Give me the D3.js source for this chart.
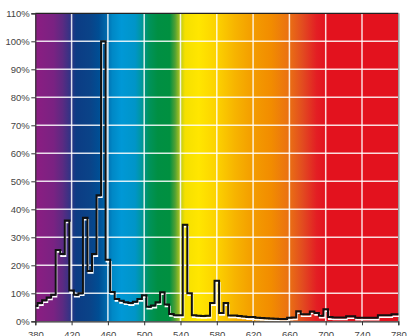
<!DOCTYPE html>
<html>
<head>
<meta charset="utf-8">
<script src="https://cdn.jsdelivr.net/npm/d3@7"></script>
<style>
html,body{margin:0;padding:0;background:#fff;}
svg{display:block;font-family:"Liberation Sans",Arial,Helvetica,sans-serif;}
</style>
</head>
<body>
<svg id="chart" width="408" height="336"></svg>
<script>
const wavelengths = [380,385,390,395,400,405,410,415,420,425,430,435,440,445,450,455,460,465,470,475,
  480,485,490,495,500,505,510,515,520,525,530,535,540,545,550,555,560,565,570,575,
  580,585,590,595,600,605,610,615,620,625,630,635,640,645,650,655,660,665,670,675,
  680,685,690,695,700,705,710,715,720,725,730,735,740,745,750,755,760,765,770,775,780];
const intensity = [5.5,6.5,7.5,8.5,9.5,25.5,24,36,11,9.5,10,37,18,24,45,100,22,10.5,8,7.3,
  6.8,6.5,7,8,9.3,5.2,5.6,6.8,10.4,6,2.6,2.2,2.2,34.5,10,2.2,2,1.9,2,6.5,
  14.5,3,6.5,2.1,2.1,1.9,1.7,1.5,1.5,1.3,1.2,1.1,1.0,0.9,0.8,0.8,1.3,1.4,3.6,2.5,
  2.5,3.5,3.0,2.0,4.3,1.5,1.4,1.4,1.4,1.8,1.8,1.3,1.3,1.3,1.3,1.3,2.2,2.2,2.2,2.5,2.5];
const xTicks = [380,420,460,500,540,580,620,660,700,740,780];
const yTicks = [0,10,20,30,40,50,60,70,80,90,100,110];
const spectrumNm = [380,400,410,420,425,440,450,458,465,475,490,497,505,515,528,534,540,545,560,580,600,620,640,660,675,690,700,780];
const spectrumColors = ["#8c1d82","#7a2282","#5c2a82","#2a3585","#0c3c84","#0a4388","#004e94","#0068aa","#0088c6","#0098d6","#0095c8","#00979e","#00935c","#008f43","#009040","#50a035","#bccb1a","#f5e000","#ffe600","#fcd200","#f7b400","#f39c00","#f28c00","#ea7014","#e24a20","#e31e24","#e3121e","#e3121e"];

const svg = d3.select("#chart");
const pL = 35.3, pR = 398.3, pT = 13.3, pB = 321.3;
const x = d3.scaleLinear().domain([380,780]).range([pL,pR]);
const y = d3.scaleLinear().domain([0,110]).range([pB,pT]);

const defs = svg.append("defs");
const grad = defs.append("linearGradient").attr("id","spec")
  .attr("gradientUnits","userSpaceOnUse")
  .attr("x1",x(380)).attr("x2",x(780)).attr("y1",0).attr("y2",0);
spectrumNm.forEach((nm,i)=>{
  grad.append("stop").attr("offset",(nm-380)/400).attr("stop-color",spectrumColors[i]);
});

svg.append("rect").attr("x",pL).attr("y",pT)
  .attr("width",pR-pL).attr("height",pB-pT).attr("fill","url(#spec)");

// grid
const g = svg.append("g");
g.selectAll("line.h").data(yTicks.filter(t=>t>0 && t<110)).enter().append("line")
  .attr("x1",pL).attr("x2",pR).attr("y1",d=>y(d)).attr("y2",d=>y(d))
  .attr("stroke","#fff").attr("stroke-opacity",0.85).attr("stroke-width",1.5);
g.selectAll("line.v").data(xTicks.filter(t=>t>380 && t<780)).enter().append("line")
  .attr("y1",pT).attr("y2",pB).attr("x1",d=>x(d)).attr("x2",d=>x(d))
  .attr("stroke","#fff").attr("stroke-opacity",0.85).attr("stroke-width",1.5);

// border
svg.append("line").attr("x1",pL).attr("x2",pR).attr("y1",pT).attr("y2",pT)
  .attr("stroke","#222").attr("stroke-width",1.2);
svg.append("line").attr("x1",pR+0.5).attr("x2",pR+0.5).attr("y1",pT).attr("y2",pB)
  .attr("stroke","#999").attr("stroke-width",1.5);

// data line
const data = wavelengths.map((w,i)=>({w, v:intensity[i]}));
const line = d3.line().x(d=>x(d.w)).y(d=>y(d.v)).curve(d3.curveStep);
svg.append("path").datum(data).attr("d",line)
  .attr("fill","none").attr("stroke","#fff").attr("stroke-width",1.6)
  .attr("transform","translate(0.8,2)");
svg.append("path").datum(data).attr("d",line)
  .attr("fill","none").attr("stroke","#111").attr("stroke-width",2);

// axes
const yAxis = d3.axisLeft(y).tickValues(yTicks).tickFormat(d=>d+"%").tickSize(4).tickPadding(1.5);
const ya = svg.append("g").attr("transform",`translate(${pL},0)`).call(yAxis);
const xAxis = d3.axisBottom(x).tickValues(xTicks).tickFormat(d3.format("d")).tickSize(4).tickPadding(6);
const xa = svg.append("g").attr("transform",`translate(0,${pB})`).call(xAxis);
[ya,xa].forEach(a=>{
  a.select(".domain").attr("stroke","#333").attr("stroke-width",1.2);
  a.selectAll(".tick line").attr("stroke","#333");
  a.selectAll("text").attr("fill","#444").attr("font-size","9.5px")
    .attr("font-family","'Liberation Sans',Arial,sans-serif");
});
</script>
</body>
</html>
